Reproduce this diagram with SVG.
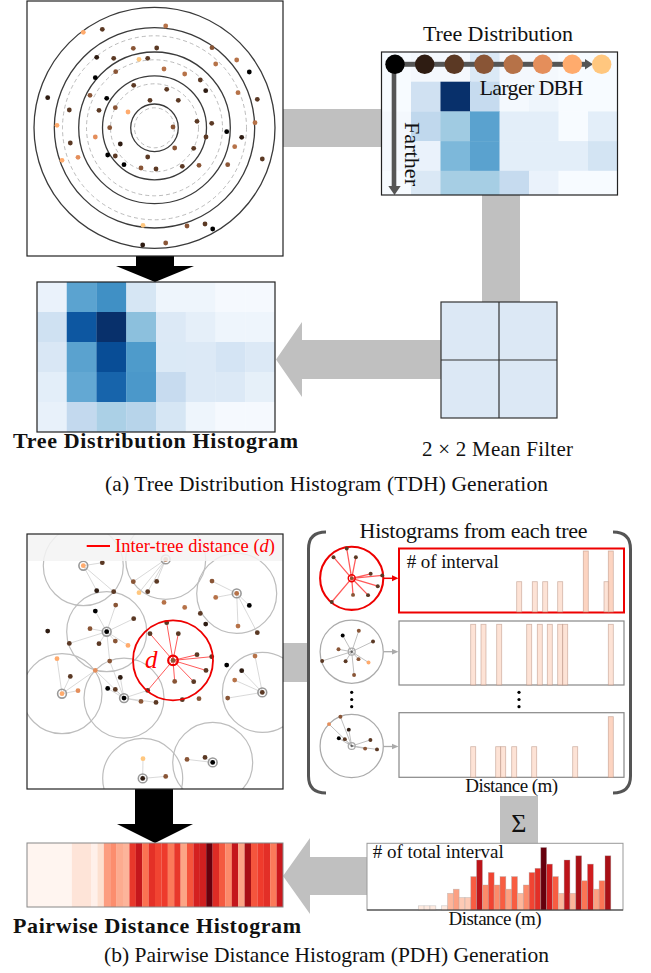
<svg xmlns="http://www.w3.org/2000/svg" width="651" height="973" viewBox="0 0 651 973">
<style>
text{font-family:"Liberation Serif","DejaVu Serif",serif;fill:#111}
.b{font-weight:bold}
.c0{fill:#000000}.c1{fill:#2e1c12}.c2{fill:#5b3924}.c3{fill:#895536}.c4{fill:#b67248}.c5{fill:#e48e5b}.c6{fill:#ffab6d}.c7{fill:#ffc77f}
.frame{fill:none;stroke:#222;stroke-width:1.2}
.solid{fill:none;stroke:#3a3a3a;stroke-width:1.3}
.dash{fill:none;stroke:#aaa;stroke-width:0.8;stroke-dasharray:4 3}
.conn{fill:#c0c0c0}
.nb{fill:none;stroke:#bdbdbd;stroke-width:1.2}
.ln{fill:none;stroke:#c8c8c8;stroke-width:0.7}
.rl{fill:none;stroke:#f22;stroke-opacity:0.75;stroke-width:1}
.ring{fill:none;stroke:#999;stroke-width:1.6}
.bar{fill:#fcd9c8;fill-opacity:0.75;stroke:#b8907f;stroke-opacity:0.6;stroke-width:0.8}
.barT{fill:#fbc9b2;fill-opacity:0.8;stroke:#b8907f;stroke-opacity:0.6;stroke-width:0.8}
</style>
<defs>
<g id="trees">
<circle class="c4" cx="165.7" cy="26" r="2.4"/><circle class="c6" cx="83.3" cy="32.3" r="2.4"/><circle class="c2" cx="102.3" cy="29.3" r="2.4"/>
<circle class="c3" cx="133.3" cy="48.3" r="2.4"/><circle class="c2" cx="156.7" cy="48" r="2.4"/><circle class="c3" cx="212" cy="47.7" r="2.4"/>
<circle class="c4" cx="236.7" cy="60" r="2.4"/><circle class="c4" cx="215.7" cy="64" r="2.4"/><circle class="c0" cx="249.3" cy="72" r="2.4"/>
<circle class="c1" cx="96.7" cy="57.3" r="2.4"/><circle class="c2" cx="113.7" cy="58.3" r="2.4"/><circle class="c7" cx="139" cy="59.3" r="2.4"/>
<circle class="c2" cx="147.7" cy="58.3" r="2.4"/><circle class="c4" cx="164" cy="69" r="2.4"/><circle class="c4" cx="184.7" cy="74" r="2.4"/>
<circle class="c2" cx="200.3" cy="80" r="2.4"/><circle class="c3" cx="115.7" cy="71.7" r="2.4"/><circle class="c0" cx="95.3" cy="77.7" r="2.4"/>
<circle class="c1" cx="205.7" cy="90.7" r="2.4"/><circle class="c4" cx="238" cy="92.7" r="2.4"/><circle class="c2" cx="257.3" cy="99.3" r="2.4"/>
<circle class="c1" cx="47.7" cy="97.7" r="2.4"/><circle class="c2" cx="133.7" cy="85.3" r="2.4"/><circle class="c2" cx="166.7" cy="89.3" r="2.4"/>
<circle class="c3" cx="90" cy="95.3" r="2.4"/><circle class="c0" cx="106.7" cy="98.3" r="2.4"/><circle class="c2" cx="150" cy="100.3" r="2.4"/>
<circle class="c2" cx="178.3" cy="100.3" r="2.4"/><circle class="c2" cx="69.3" cy="110" r="2.4"/><circle class="c2" cx="99" cy="110.3" r="2.4"/>
<circle class="c3" cx="115.3" cy="107.7" r="2.4"/><circle class="c6" cx="128" cy="112" r="2.4"/><circle class="c2" cx="197" cy="121.3" r="2.4"/>
<circle class="c2" cx="211.7" cy="123.3" r="2.4"/><circle class="c4" cx="255" cy="122.7" r="2.4"/><circle class="c6" cx="57" cy="125.3" r="2.4"/>
<circle class="c3" cx="109.7" cy="127.7" r="2.4"/><circle class="c3" cx="173" cy="127" r="2.4"/><circle class="c0" cx="226.7" cy="131.7" r="2.4"/>
<circle class="c2" cx="206" cy="137" r="2.4"/><circle class="c1" cx="241.7" cy="137.3" r="2.4"/><circle class="c5" cx="95.3" cy="137" r="2.4"/>
<circle class="c2" cx="70.3" cy="143" r="2.4"/><circle class="c1" cx="120.3" cy="144" r="2.4"/><circle class="c3" cx="174.7" cy="148" r="2.4"/>
<circle class="c2" cx="193.7" cy="148.3" r="2.4"/><circle class="c4" cx="234.7" cy="146.7" r="2.4"/><circle class="c0" cx="107.7" cy="155" r="2.4"/>
<circle class="c2" cx="115.3" cy="156" r="2.4"/><circle class="c2" cx="147.7" cy="157" r="2.4"/><circle class="c5" cx="78" cy="157.3" r="2.4"/>
<circle class="c6" cx="62" cy="160.3" r="2.4"/><circle class="c2" cx="262.3" cy="159" r="2.4"/><circle class="c0" cx="124" cy="164.7" r="2.4"/>
<circle class="c2" cx="182.3" cy="166.3" r="2.4"/><circle class="c3" cx="199" cy="165.3" r="2.4"/><circle class="c3" cx="227.7" cy="164.7" r="2.4"/>
<circle class="c3" cx="141" cy="168" r="2.4"/><circle class="c2" cx="156" cy="169" r="2.4"/><circle class="c7" cx="143" cy="225.3" r="2.4"/>
<circle class="c3" cx="187" cy="226" r="2.4"/><circle class="c2" cx="205" cy="224" r="2.4"/><circle class="c0" cx="212.7" cy="229" r="2.4"/>
<circle class="c1" cx="142.7" cy="245" r="2.4"/><circle class="c3" cx="165.7" cy="243" r="2.4"/>
</g>
<path id="linesE" d="M173 127L150 100.3M173 127L166.7 89.3M173 127L178.3 100.3M173 127L197 121.3M173 127L211.7 123.3M173 127L206 137M173 127L174.7 148M173 127L193.7 148.3M173 127L147.7 157"/>
<path id="linesD" d="M106.7 98.3L95.3 77.7M106.7 98.3L115.7 71.7M106.7 98.3L133.7 85.3M106.7 98.3L90 95.3M106.7 98.3L69.3 110M106.7 98.3L99 110.3M106.7 98.3L115.3 107.7M106.7 98.3L128 112M106.7 98.3L109.7 127.7"/>
<path id="linesG" d="M124 164.7L120.3 144M124 164.7L107.7 155M124 164.7L115.3 156M124 164.7L147.7 157M124 164.7L141 168M124 164.7L156 169M124 164.7L95.3 137M124 164.7L109.7 127.7"/>
<clipPath id="clipB"><rect x="27" y="534" width="256" height="255"/></clipPath>
</defs>

<g id="connectors-a">
<rect class="conn" x="283" y="109" width="98" height="38"/>
<rect class="conn" x="482" y="195" width="38" height="107"/>
<polygon class="conn" points="441,340 302,340 302,322 276,359.5 302,397 302,379 441,379"/>
<polygon fill="#000" points="136,256 174,256 174,266 194,266 155,282 116,266 136,266"/>
</g>

<g id="tree-map">
<rect x="27" y="1" width="256" height="255" fill="#fff"/>
<circle class="dash" cx="154.5" cy="127.8" r="92"/>
<circle class="dash" cx="154.5" cy="127.8" r="68"/>
<circle class="dash" cx="154.5" cy="127.8" r="44"/>
<circle class="dash" cx="154.5" cy="127.8" r="20"/>
<circle class="solid" cx="154.5" cy="127.8" r="120.5"/>
<circle class="solid" cx="154.5" cy="127.8" r="100.2"/>
<circle class="solid" cx="154.5" cy="127.8" r="75.8"/>
<circle class="solid" cx="154.5" cy="127.8" r="52"/>
<circle class="solid" cx="154.5" cy="127.8" r="23.8"/>
<use href="#trees"/>
<rect class="frame" x="27" y="1" width="256" height="255"/>
</g>

<g id="tree-distribution">
<text x="498" y="41" font-size="22" text-anchor="middle" textLength="150">Tree Distribution</text>
<g>
<rect x="381.5" y="52" width="30" height="30" fill="#f7fbff"/><rect x="411" y="52" width="30" height="30" fill="#f4f8fd"/><rect x="440.5" y="52" width="30" height="30" fill="#f4f8fd"/><rect x="470" y="52" width="30" height="30" fill="#dbe9f6"/><rect x="499.5" y="52" width="30" height="30" fill="#f4f8fd"/><rect x="529" y="52" width="30" height="30" fill="#f4f8fd"/><rect x="558.5" y="52" width="30" height="30" fill="#f7fbff"/><rect x="588" y="52" width="29.5" height="30" fill="#f7fbff"/>
<rect x="381.5" y="81.7" width="30" height="30" fill="#f7fbff"/><rect x="411" y="81.7" width="30" height="30" fill="#d0e1f2"/><rect x="440.5" y="81.7" width="30" height="30" fill="#08306b"/><rect x="470" y="81.7" width="30" height="30" fill="#c6dbef"/><rect x="499.5" y="81.7" width="30" height="30" fill="#f4f9fe"/><rect x="529" y="81.7" width="30" height="30" fill="#eef5fc"/><rect x="558.5" y="81.7" width="30" height="30" fill="#f7fbff"/><rect x="588" y="81.7" width="29.5" height="30" fill="#f7fbff"/>
<rect x="381.5" y="111.4" width="30" height="30" fill="#f4f8fd"/><rect x="411" y="111.4" width="30" height="30" fill="#c0d8ed"/><rect x="440.5" y="111.4" width="30" height="30" fill="#a0cbe2"/><rect x="470" y="111.4" width="30" height="30" fill="#5aa2cf"/><rect x="499.5" y="111.4" width="30" height="30" fill="#e3eef9"/><rect x="529" y="111.4" width="30" height="30" fill="#e3eef9"/><rect x="558.5" y="111.4" width="30" height="30" fill="#f7fbff"/><rect x="588" y="111.4" width="29.5" height="30" fill="#e3eef9"/>
<rect x="381.5" y="141.1" width="30" height="30" fill="#f4f8fd"/><rect x="411" y="141.1" width="30" height="30" fill="#eaf2fb"/><rect x="440.5" y="141.1" width="30" height="30" fill="#7db8da"/><rect x="470" y="141.1" width="30" height="30" fill="#5aa2cf"/><rect x="499.5" y="141.1" width="30" height="30" fill="#e3eef9"/><rect x="529" y="141.1" width="30" height="30" fill="#e3eef9"/><rect x="558.5" y="141.1" width="30" height="30" fill="#e3eef9"/><rect x="588" y="141.1" width="29.5" height="30" fill="#d3e4f3"/>
<rect x="381.5" y="170.8" width="30" height="24.2" fill="#f7fbff"/><rect x="411" y="170.8" width="30" height="24.2" fill="#dae8f5"/><rect x="440.5" y="170.8" width="30" height="24.2" fill="#a6cee4"/><rect x="470" y="170.8" width="30" height="24.2" fill="#a6cee4"/><rect x="499.5" y="170.8" width="30" height="24.2" fill="#c6dbef"/><rect x="529" y="170.8" width="30" height="24.2" fill="#eaf2fb"/><rect x="558.5" y="170.8" width="30" height="24.2" fill="#f7fbff"/><rect x="588" y="170.8" width="29.5" height="24.2" fill="#f7fbff"/>
</g>
<g fill="#555">
<rect x="395" y="61.8" width="191" height="5"/>
<polygon points="585,59 593,64.3 585,69.6"/>
<rect x="391.7" y="64" width="4.6" height="123"/>
<polygon points="388.3,186 400.7,186 394.5,195"/>
</g>
<circle cx="395" cy="64.3" r="9.7" fill="#000000"/>
<circle cx="424.7" cy="64.3" r="9.7" fill="#2e1c12"/>
<circle cx="454.3" cy="64.3" r="9.7" fill="#5b3924"/>
<circle cx="484" cy="64.3" r="9.7" fill="#895536"/>
<circle cx="513.3" cy="64.3" r="9.7" fill="#b67248"/>
<circle cx="542.7" cy="64.3" r="9.7" fill="#e48e5b"/>
<circle cx="572.3" cy="64.3" r="9.7" fill="#ffab6d"/>
<circle cx="601.7" cy="64.3" r="9.7" fill="#ffc77f"/>
<text x="479.5" y="95" font-size="22" textLength="104">Larger DBH</text>
<text transform="translate(405 122) rotate(90)" font-size="22" textLength="64">Farther</text>
<rect class="frame" x="381.5" y="52" width="236" height="143"/>
</g>

<g id="mean-filter">
<rect x="441" y="302" width="116" height="116" fill="#dce8f5" stroke="#333" stroke-width="1.2"/>
<line x1="499" y1="302" x2="499" y2="418" stroke="#333" stroke-width="1.2"/>
<line x1="441" y1="360" x2="557" y2="360" stroke="#333" stroke-width="1.2"/>
<text x="422" y="456" font-size="21" textLength="151">2 × 2 Mean Filter</text>
</g>

<g id="tdh">
<rect x="37" y="282" width="30" height="30" fill="#eaf2fb"/><rect x="66.75" y="282" width="30" height="30" fill="#5ba3d0"/><rect x="96.5" y="282" width="30" height="30" fill="#4090c5"/><rect x="126.25" y="282" width="30" height="30" fill="#d6e6f4"/><rect x="156" y="282" width="30" height="30" fill="#eef5fc"/><rect x="185.75" y="282" width="30" height="30" fill="#eef5fc"/><rect x="215.5" y="282" width="30" height="30" fill="#f5f9fe"/><rect x="245.25" y="282" width="29.75" height="30" fill="#f5f9fe"/>
<rect x="37" y="312" width="30" height="30" fill="#cfe1f2"/><rect x="66.75" y="312" width="30" height="30" fill="#0d57a1"/><rect x="96.5" y="312" width="30" height="30" fill="#08306b"/><rect x="126.25" y="312" width="30" height="30" fill="#8cc0dd"/><rect x="156" y="312" width="30" height="30" fill="#dce9f6"/><rect x="185.75" y="312" width="30" height="30" fill="#e5eff9"/><rect x="215.5" y="312" width="30" height="30" fill="#eef5fc"/><rect x="245.25" y="312" width="29.75" height="30" fill="#eef5fc"/>
<rect x="37" y="342" width="30" height="30" fill="#d9e7f5"/><rect x="66.75" y="342" width="30" height="30" fill="#5aa2cf"/><rect x="96.5" y="342" width="30" height="30" fill="#084d96"/><rect x="126.25" y="342" width="30" height="30" fill="#4e9bcb"/><rect x="156" y="342" width="30" height="30" fill="#dbe9f6"/><rect x="185.75" y="342" width="30" height="30" fill="#dce9f6"/><rect x="215.5" y="342" width="30" height="30" fill="#d4e4f4"/><rect x="245.25" y="342" width="29.75" height="30" fill="#dce9f6"/>
<rect x="37" y="372" width="30" height="30" fill="#e3eef9"/><rect x="66.75" y="372" width="30" height="30" fill="#63a8d3"/><rect x="96.5" y="372" width="30" height="30" fill="#1764ab"/><rect x="126.25" y="372" width="30" height="30" fill="#4b98ca"/><rect x="156" y="372" width="30" height="30" fill="#c7dbef"/><rect x="185.75" y="372" width="30" height="30" fill="#dce9f6"/><rect x="215.5" y="372" width="30" height="30" fill="#dce9f6"/><rect x="245.25" y="372" width="29.75" height="30" fill="#e6f0f9"/>
<rect x="37" y="402" width="30" height="30" fill="#e8f1fa"/><rect x="66.75" y="402" width="30" height="30" fill="#c3d9ee"/><rect x="96.5" y="402" width="30" height="30" fill="#abd0e6"/><rect x="126.25" y="402" width="30" height="30" fill="#b7d4ea"/><rect x="156" y="402" width="30" height="30" fill="#d6e6f4"/><rect x="185.75" y="402" width="30" height="30" fill="#eef5fc"/><rect x="215.5" y="402" width="30" height="30" fill="#f5f9fe"/><rect x="245.25" y="402" width="29.75" height="30" fill="#f5f9fe"/>
<rect class="frame" x="37" y="282" width="238" height="150"/>
<text class="b" x="13" y="448" font-size="22" textLength="285">Tree Distribution Histogram</text>
</g>

<text x="105" y="491" font-size="21.5" textLength="443">(a) Tree Distribution Histogram (TDH) Generation</text>

<g id="connectors-b">
<rect class="conn" x="283" y="643" width="26" height="39"/>
<rect class="conn" x="500" y="796" width="38" height="48"/>
<polygon class="conn" points="367,857 310,857 310,838 283,876 310,914 310,895 367,895"/>
<polygon fill="#000" points="135,789 173,789 173,824 193,824 155,843 117,824 135,824"/>
</g>

<g id="pairwise-map">
<rect x="27" y="534" width="256" height="255" fill="#fff"/>
<g clip-path="url(#clipB)">
<g transform="translate(0 533.4)">
<g class="nb">
<circle cx="83.3" cy="32.3" r="40"/><circle cx="165.7" cy="26" r="40"/><circle cx="236.7" cy="60" r="40"/>
<circle cx="106.7" cy="98.3" r="40"/><circle cx="62" cy="160.3" r="40"/><circle cx="124" cy="164.7" r="40"/>
<circle cx="262.3" cy="159" r="40"/><circle cx="142.7" cy="245" r="40"/><circle cx="212.7" cy="229" r="40"/>
</g>
<path class="ln" d="M83.3 32.3L102.3 29.3M83.3 32.3L96.7 57.3M83.3 32.3L113.7 58.3M165.7 26L133.3 48.3M165.7 26L156.7 48M165.7 26L147.7 58.3M165.7 26L139 59.3M236.7 60L212 47.7M236.7 60L215.7 64M236.7 60L249.3 72M236.7 60L238 92.7M236.7 60L257.3 99.3M62 160.3L57 125.3M62 160.3L70.3 143M62 160.3L78 157.3M62 160.3L95.3 137M262.3 159L255 122.7M262.3 159L241.7 137.3M262.3 159L234.7 146.7M262.3 159L227.7 164.7M142.7 245L143 225.3M142.7 245L165.7 243M212.7 229L187 226M212.7 229L205 224"/>
<use href="#linesD" class="ln"/>
<use href="#linesG" class="ln"/>
<use href="#linesE" class="rl"/>
<use href="#trees"/>
<g class="ring">
<circle cx="83.3" cy="32.3" r="4.4"/><circle cx="165.7" cy="26" r="4.4"/><circle cx="236.7" cy="60" r="4.4"/>
<circle cx="106.7" cy="98.3" r="4.4"/><circle cx="62" cy="160.3" r="4.4"/><circle cx="124" cy="164.7" r="4.4"/>
<circle cx="262.3" cy="159" r="4.4"/><circle cx="142.7" cy="245" r="4.4"/><circle cx="212.7" cy="229" r="4.4"/>
</g>
<circle cx="173" cy="127" r="40" fill="none" stroke="#e00" stroke-width="1.8"/>
<circle cx="173" cy="127" r="4.8" fill="none" stroke="#e00" stroke-width="2.2"/>
</g>
<rect x="27" y="534" width="256" height="27" fill="#f3f3f3" fill-opacity="0.85"/>
</g>
<line x1="86.7" y1="546" x2="110" y2="546" stroke="#f00" stroke-width="2"/>
<text x="115" y="552" font-size="18.5" style="fill:#f00" textLength="160">Inter-tree distance (<tspan font-style="italic">d</tspan>)</text>
<text x="145" y="668" font-size="25" font-style="italic" style="fill:#f00">d</text>
<rect class="frame" x="27" y="534" width="256" height="255"/>
</g>

<g id="per-tree-histograms">
<path d="M326 532Q308.5 532 308.5 549V776Q308.5 793 326 793" fill="none" stroke="#555" stroke-width="3"/>
<path d="M613 532Q630.5 532 630.5 549V776Q630.5 793 613 793" fill="none" stroke="#555" stroke-width="3"/>
<text x="473.5" y="538" font-size="22" text-anchor="middle" textLength="228">Histograms from each tree</text>

<g id="row1">
<g transform="translate(351.7 578.3) scale(0.79) translate(-173 -127)">
<use href="#linesE" stroke="#f22" stroke-opacity="0.75" stroke-width="1.6" fill="none"/>
<circle cx="173" cy="127" r="40" fill="none" stroke="#e00" stroke-width="2.6"/>
<circle class="c2" cx="150" cy="100.3" r="2.5"/><circle class="c2" cx="166.7" cy="89.3" r="2.5"/><circle class="c2" cx="178.3" cy="100.3" r="2.5"/>
<circle class="c2" cx="197" cy="121.3" r="2.5"/><circle class="c2" cx="211.7" cy="123.3" r="2.5"/><circle class="c2" cx="206" cy="137" r="2.5"/>
<circle class="c3" cx="174.7" cy="148" r="2.5"/><circle class="c2" cx="193.7" cy="148.3" r="2.5"/><circle class="c2" cx="147.7" cy="157" r="2.5"/>
<circle class="c3" cx="173" cy="127" r="2.2"/>
<circle cx="173" cy="127" r="4.4" fill="none" stroke="#e00" stroke-width="1.8"/>
</g>
<line x1="383.6" y1="578.3" x2="393" y2="578.3" stroke="#e00" stroke-width="1.5"/>
<polygon points="392,575.3 398.5,578.3 392,581.3" fill="#e00"/>
<rect x="399" y="548.5" width="225" height="64" fill="#fff" stroke="#e00" stroke-width="2"/>
<text x="406.7" y="568.3" font-size="19" textLength="92"># of interval</text>
<rect class="bar" x="516.7" y="581.7" width="5" height="30.3"/><rect class="bar" x="532.3" y="581.7" width="5" height="30.3"/>
<rect class="bar" x="542.7" y="581.7" width="5" height="30.3"/><rect class="bar" x="557.7" y="581.7" width="5" height="30.3"/>
<rect class="barT" x="583.3" y="551" width="5" height="61"/><rect class="bar" x="604" y="581.7" width="5" height="30.3"/>
<rect class="barT" x="608.3" y="551" width="5" height="61"/>
</g>

<g id="row2">
<g transform="translate(351.7 651.7) scale(0.79) translate(-106.7 -98.3)">
<use href="#linesD" stroke="#bbb" stroke-width="1.2" fill="none"/>
<circle cx="106.7" cy="98.3" r="40" fill="none" stroke="#aaa" stroke-width="1.6"/>
<circle class="c0" cx="95.3" cy="77.7" r="2.5"/><circle class="c3" cx="115.7" cy="71.7" r="2.5"/><circle class="c2" cx="133.7" cy="85.3" r="2.5"/>
<circle class="c3" cx="90" cy="95.3" r="2.5"/><circle class="c2" cx="69.3" cy="110" r="2.5"/><circle class="c2" cx="99" cy="110.3" r="2.5"/>
<circle class="c3" cx="115.3" cy="107.7" r="2.5"/><circle class="c6" cx="128" cy="112" r="2.5"/><circle class="c3" cx="109.7" cy="127.7" r="2.5"/>
<circle cx="106.7" cy="98.3" r="4.4" fill="none" stroke="#aaa" stroke-width="1.6"/>
<circle class="c0" cx="106.7" cy="98.3" r="1.5" fill-opacity="0.5"/>
</g>
<line x1="383.6" y1="651.7" x2="393" y2="651.7" stroke="#aaa" stroke-width="1.3"/>
<polygon points="392,649 398.5,651.7 392,654.4" fill="#aaa"/>
<rect x="399" y="621" width="225" height="64" fill="#fff" stroke="#888" stroke-width="1.2"/>
<rect class="bar" x="470.7" y="624.3" width="5" height="60.7"/><rect class="bar" x="481" y="624.3" width="5" height="60.7"/>
<rect class="bar" x="496.7" y="624.3" width="5" height="60.7"/><rect class="bar" x="526.7" y="624.3" width="5" height="60.7"/>
<rect class="bar" x="537.3" y="624.3" width="5" height="60.7"/><rect class="bar" x="547.3" y="624.3" width="5" height="60.7"/>
<rect class="bar" x="557.7" y="624.3" width="5" height="60.7"/><rect class="bar" x="562.7" y="624.3" width="5" height="60.7"/>
<rect class="bar" x="608.3" y="624.3" width="5" height="60.7"/>
</g>

<g id="ellipsis" fill="#000">
<circle cx="351.7" cy="692.3" r="1.6"/><circle cx="351.7" cy="699.5" r="1.6"/><circle cx="351.7" cy="706.7" r="1.6"/>
<circle cx="519" cy="692.3" r="1.6"/><circle cx="519" cy="699.5" r="1.6"/><circle cx="519" cy="706.7" r="1.6"/>
</g>

<g id="row3">
<g transform="translate(351.7 746) scale(0.79) translate(-124 -164.7)">
<use href="#linesG" stroke="#bbb" stroke-width="1.2" fill="none"/>
<circle cx="124" cy="164.7" r="40" fill="none" stroke="#aaa" stroke-width="1.6"/>
<circle class="c1" cx="120.3" cy="144" r="2.5"/><circle class="c0" cx="107.7" cy="155" r="2.5"/><circle class="c2" cx="115.3" cy="156" r="2.5"/>
<circle class="c2" cx="147.7" cy="157" r="2.5"/><circle class="c3" cx="141" cy="168" r="2.5"/><circle class="c2" cx="156" cy="169" r="2.5"/>
<circle class="c5" cx="95.3" cy="137" r="2.5"/><circle class="c3" cx="109.7" cy="127.7" r="2.5"/>
<circle cx="124" cy="164.7" r="4.4" fill="none" stroke="#aaa" stroke-width="1.6"/>
<circle class="c0" cx="124" cy="164.7" r="1.5" fill-opacity="0.5"/>
</g>
<line x1="383.6" y1="746.5" x2="393" y2="746.5" stroke="#aaa" stroke-width="1.3"/>
<polygon points="392,743.8 398.5,746.5 392,749.2" fill="#aaa"/>
<rect x="399" y="712.7" width="225" height="64.6" fill="#fff" stroke="#888" stroke-width="1.2"/>
<rect class="bar" x="470.7" y="746.7" width="5" height="30.6"/><rect class="bar" x="495.7" y="746.7" width="5" height="30.6"/>
<rect class="bar" x="500.7" y="746.7" width="5" height="30.6"/><rect class="bar" x="511.7" y="746.7" width="5" height="30.6"/>
<rect class="bar" x="531.7" y="746.7" width="5" height="30.6"/><rect class="bar" x="572.7" y="746.7" width="5" height="30.6"/>
<rect class="barT" x="608.3" y="716.7" width="5" height="60.6"/>
</g>
<text x="511.7" y="792" font-size="19" text-anchor="middle" textLength="93">Distance (m)</text>
</g>

<text x="518.8" y="832" font-size="26" text-anchor="middle">Σ</text>

<g id="total-histogram">
<rect x="367" y="843.3" width="256" height="66.7" fill="#fff" stroke="#999" stroke-width="1"/>
<text x="372.7" y="858.3" font-size="19" textLength="131"># of total interval</text>
<g stroke="#aaa" stroke-opacity="0.6" stroke-width="0.6">
<rect x="418.3" y="905.8" width="5.83" height="4.2" fill="#feeae0"/>
<rect x="424.1" y="905.8" width="5.83" height="4.2" fill="#feeae0"/>
<rect x="430" y="905.8" width="5.83" height="4.2" fill="#feeae0"/>
<rect x="441.6" y="905.8" width="5.83" height="4.2" fill="#feeae0"/>
<rect x="447.5" y="893.3" width="5.83" height="16.7" fill="#fcb69b"/>
<rect x="453.3" y="889.2" width="5.83" height="20.8" fill="#fca082"/>
<rect x="459.1" y="897.5" width="5.83" height="12.5" fill="#fdcab5"/>
<rect x="465" y="897.5" width="5.83" height="12.5" fill="#fdcab5"/>
<rect x="470.8" y="876.6" width="5.83" height="33.4" fill="#f85d42"/>
<rect x="476.6" y="860" width="5.83" height="50" fill="#bc141a"/>
<rect x="482.5" y="885" width="5.83" height="25" fill="#fc8a6a"/>
<rect x="488.3" y="872.5" width="5.83" height="37.5" fill="#f14432"/>
<rect x="494.1" y="885" width="5.83" height="25" fill="#fc8a6a"/>
<rect x="500" y="876.6" width="5.83" height="33.4" fill="#f85d42"/>
<rect x="505.8" y="889.2" width="5.83" height="20.8" fill="#fca082"/>
<rect x="511.6" y="876.6" width="5.83" height="33.4" fill="#f85d42"/>
<rect x="517.5" y="893.3" width="5.83" height="16.7" fill="#fcb69b"/>
<rect x="523.3" y="885" width="5.83" height="25" fill="#fc8a6a"/>
<rect x="529.1" y="872.5" width="5.83" height="37.5" fill="#f14432"/>
<rect x="535" y="868.3" width="5.83" height="41.7" fill="#e32f27"/>
<rect x="540.8" y="847.5" width="5.83" height="62.5" fill="#67000d"/>
<rect x="546.6" y="864.1" width="5.83" height="45.9" fill="#d01d1f"/>
<rect x="552.5" y="876.6" width="5.83" height="33.4" fill="#f85d42"/>
<rect x="558.3" y="893.3" width="5.83" height="16.7" fill="#fcb69b"/>
<rect x="564.1" y="860" width="5.83" height="50" fill="#bc141a"/>
<rect x="570" y="893.3" width="5.83" height="16.7" fill="#fcb69b"/>
<rect x="575.8" y="855.8" width="5.83" height="54.2" fill="#a81016"/>
<rect x="581.6" y="880.8" width="5.83" height="29.2" fill="#fb7555"/>
<rect x="587.5" y="864.1" width="5.83" height="45.9" fill="#d01d1f"/>
<rect x="593.3" y="889.2" width="5.83" height="20.8" fill="#fca082"/>
<rect x="599.1" y="880.8" width="5.83" height="29.2" fill="#fb7555"/>
<rect x="605" y="855.8" width="5.83" height="54.2" fill="#a81016"/>
</g>
<line x1="367" y1="910" x2="623" y2="910" stroke="#333" stroke-width="1.2"/>
<text x="495" y="925" font-size="19" text-anchor="middle" textLength="93">Distance (m)</text>
</g>

<g id="pdh">
<rect x="27" y="843" width="44.8" height="64" fill="#fff5f0"/>
<rect x="71.8" y="843" width="19.2" height="64" fill="#fee4d8"/>
<rect x="91" y="843" width="6.4" height="64" fill="#fff0ea"/>
<rect x="97.4" y="843" width="6.4" height="64" fill="#fde0d0"/>
<rect x="103.8" y="843" width="6.5" height="64" fill="#fc9d80"/>
<rect x="110.2" y="843" width="6.5" height="64" fill="#fc8d6d"/>
<rect x="116.6" y="843" width="6.5" height="64" fill="#fcab8f"/>
<rect x="123" y="843" width="6.5" height="64" fill="#fcb49a"/>
<rect x="129.4" y="843" width="6.5" height="64" fill="#e8382b"/>
<rect x="135.8" y="843" width="6.5" height="64" fill="#c5171c"/>
<rect x="142.2" y="843" width="6.5" height="64" fill="#fb7252"/>
<rect x="148.6" y="843" width="6.5" height="64" fill="#e43027"/>
<rect x="155" y="843" width="6.5" height="64" fill="#f14432"/>
<rect x="161.4" y="843" width="6.5" height="64" fill="#ee3a2c"/>
<rect x="167.8" y="843" width="6.5" height="64" fill="#fb7a5a"/>
<rect x="174.2" y="843" width="6.5" height="64" fill="#e8382b"/>
<rect x="180.6" y="843" width="6.5" height="64" fill="#fca586"/>
<rect x="187" y="843" width="6.5" height="64" fill="#f5543c"/>
<rect x="193.4" y="843" width="6.5" height="64" fill="#d42020"/>
<rect x="199.8" y="843" width="6.5" height="64" fill="#d02020"/>
<rect x="206.2" y="843" width="6.5" height="64" fill="#67000d"/>
<rect x="212.6" y="843" width="6.5" height="64" fill="#de2b25"/>
<rect x="219" y="843" width="6.5" height="64" fill="#f45a40"/>
<rect x="225.4" y="843" width="6.5" height="64" fill="#fc8a6a"/>
<rect x="231.8" y="843" width="6.5" height="64" fill="#c4161c"/>
<rect x="238.2" y="843" width="6.5" height="64" fill="#fca586"/>
<rect x="244.6" y="843" width="6.5" height="64" fill="#a81016"/>
<rect x="251" y="843" width="6.5" height="64" fill="#f5553d"/>
<rect x="257.4" y="843" width="6.5" height="64" fill="#ef3b2c"/>
<rect x="263.8" y="843" width="6.5" height="64" fill="#e32f27"/>
<rect x="270.2" y="843" width="6.5" height="64" fill="#fb7a5a"/>
<rect x="276.6" y="843" width="6.4" height="64" fill="#cb181d"/>
<rect x="27" y="843" width="256" height="64" fill="none" stroke="#888" stroke-width="1"/>
<text class="b" x="13" y="933" font-size="22" textLength="288">Pairwise Distance Histogram</text>
</g>

<text x="104" y="962" font-size="21.5" textLength="445">(b) Pairwise Distance Histogram (PDH) Generation</text>
</svg>
